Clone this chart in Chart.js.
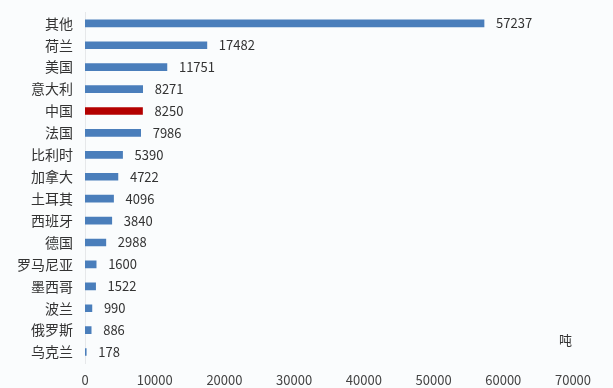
<!DOCTYPE html>
<html>
<head>
  <script src="https://cdn.jsdelivr.net/npm/chart.js"></script>
  <style>
    body { margin: 0; background: #fafcfd; }
    #wrap { width: 613px; height: 388px; }
  </style>
</head>
<body>
  <div id="wrap"><canvas id="chart"></canvas></div>
  <script>
    const countries = ['其他', '荷兰', '美国', '意大利', '中国', '法国', '比利时', '加拿大', '土耳其', '西班牙', '德国', '罗马尼亚', '墨西哥', '波兰', '俄罗斯', '乌克兰'];
    const tons = [57237, 17482, 11751, 8271, 8250, 7986, 5390, 4722, 4096, 3840, 2988, 1600, 1522, 990, 886, 178];
    const unitLabel = '吨';

    const font = "'Noto Sans CJK SC', 'Microsoft YaHei', sans-serif";

    // value labels at the bar ends, plus the unit text
    const valueLabels = {
      id: 'valueLabels',
      afterDatasetsDraw(chart) {
        const c = chart.ctx;
        const meta = chart.getDatasetMeta(0);
        c.save();
        c.font = '13px ' + font;
        c.fillStyle = '#333';
        c.textBaseline = 'middle';
        meta.data.forEach((bar, i) => {
          c.fillText(String(tons[i]), bar.x + 12, bar.y);
        });
        c.fillText(unitLabel, 559, 340);
        c.restore();
      }
    };

    new Chart(document.getElementById('chart'), {
      type: 'bar',
      data: {
        labels: countries,
        datasets: [{
          data: tons,
          backgroundColor: countries.map(c => c === '中国' ? '#b30000' : '#4a7ebb'),
          barThickness: 7
        }]
      },
      options: {
        indexAxis: 'y',
        responsive: true,
        maintainAspectRatio: false,
        animation: false,
        layout: { padding: { top: 9, right: 40, bottom: 0, left: 0 } },
        plugins: { legend: { display: false }, tooltip: { enabled: false } },
        scales: {
          x: {
            min: 0, max: 70000,
            afterFit(s) { s.height = 25; },
            ticks: { stepSize: 10000, color: '#444', font: { size: 13, family: font }, padding: 1,
              callback: v => String(v) },
            grid: { display: false },
            border: { display: false }
          },
          y: {
            afterFit(s) { s.width = 85; },
            ticks: { color: '#333', font: { size: 14, family: font }, padding: 4 },
            grid: { display: false },
            border: { color: '#e6e8ea' }
          }
        }
      },
      plugins: [valueLabels]
    });
  </script>
</body>
</html>
